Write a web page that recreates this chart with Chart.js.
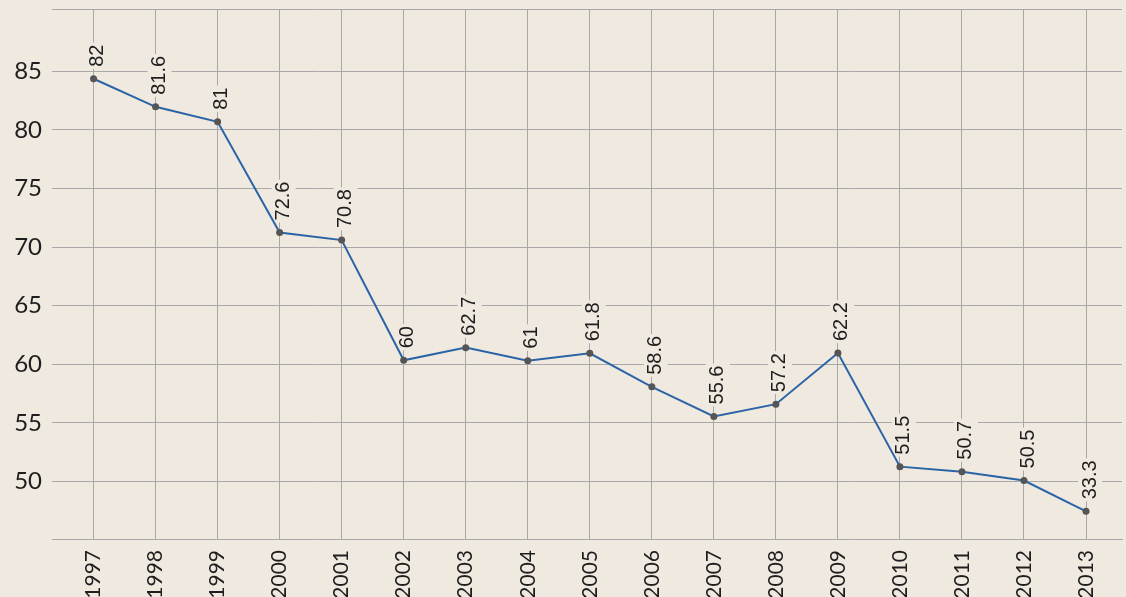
<!DOCTYPE html>
<html>
<head>
<meta charset="utf-8">
<script src="https://cdn.jsdelivr.net/npm/chart.js@4.4.1/dist/chart.umd.min.js"></script>
<style>
  html, body { margin: 0; padding: 0; background: #efe9e0; }
  canvas { display: block; }
</style>
</head>
<body>
<canvas id="c" width="1126" height="597"></canvas>
<script>
// ---- data ----
const years = [1997, 1998, 1999, 2000, 2001, 2002, 2003, 2004, 2005, 2006, 2007, 2008, 2009, 2010, 2011, 2012, 2013];
const values = [84.35, 81.96, 80.68, 71.24, 70.59, 60.34, 61.42, 60.31, 60.94, 58.08, 55.55, 56.60, 60.96, 51.27, 50.84, 50.09, 47.46];
const pointLabels = ['82', '81.6', '81', '72.6', '70.8', '60', '62.7', '61', '61.8', '58.6', '55.6', '57.2', '62.2', '51.5', '50.7', '50.5', '33.3'];
const yTicks = [50, 55, 60, 65, 70, 75, 80, 85];

const BG = '#efe9e0';
const GRID = '#a8a8a8';

const bgPlugin = {
  id: 'bg',
  beforeDraw(chart) {
    const ctx = chart.ctx;
    ctx.save();
    ctx.fillStyle = BG;
    ctx.fillRect(0, 0, chart.width, chart.height);
    ctx.restore();
  }
};

const labelPlugin = {
  id: 'pointLabelsPlugin',
  beforeDatasetsDraw(chart) {
    const ctx = chart.ctx;
    const meta = chart.getDatasetMeta(0);
    ctx.save();
    ctx.font = '20px "Liberation Sans", Arial, sans-serif';
    meta.data.forEach((pt, i) => {
      const txt = pointLabels[i];
      const w = ctx.measureText(txt).width;
      ctx.save();
      ctx.translate(pt.x + 4, pt.y - 12);
      ctx.rotate(-Math.PI / 2);
      ctx.fillStyle = BG;
      ctx.fillRect(-2, -12, w + 4, 24);
      ctx.fillStyle = '#1e1e1e';
      ctx.textAlign = 'left';
      ctx.textBaseline = 'middle';
      ctx.fillText(txt, 0, 0);
      ctx.restore();
    });
    ctx.restore();
  }
};

function zeroPad(s) { s.paddingLeft = 0; s.paddingRight = 0; s.paddingTop = 0; s.paddingBottom = 0; }

new Chart(document.getElementById('c'), {
  type: 'line',
  data: {
    datasets: [{
      data: years.map((y, i) => ({ x: y, y: values[i] })),
      borderColor: '#2b64a6',
      borderWidth: 2,
      pointRadius: 3.5,
      pointBackgroundColor: '#555555',
      pointBorderWidth: 0,
      tension: 0,
      fill: false
    }]
  },
  options: {
    responsive: false,
    animation: false,
    devicePixelRatio: 1,
    layout: { padding: { top: 9, right: 0, left: 0, bottom: 0 } },
    plugins: { legend: { display: false }, tooltip: { enabled: false } },
    scales: {
      x: {
        type: 'linear',
        min: 1996.33,
        max: 2013.58,
        afterBuildTicks(s) { s.ticks = years.map(v => ({ value: v })); },
        afterFit(s) { s.height = 58; zeroPad(s); },
        ticks: {
          autoSkip: false,
          minRotation: 90,
          maxRotation: 90,
          padding: 11,
          color: '#1e1e1e',
          font: { family: 'Lato', size: 21 },
          callback: v => String(v)
        },
        grid: { color: GRID, lineWidth: 1, drawTicks: false },
        border: { display: true, color: GRID, width: 1 }
      },
      y: {
        min: 45.1,
        max: 90.3,
        afterBuildTicks(s) { s.ticks = yTicks.map(v => ({ value: v })).concat([{ value: s.max }]); },
        afterFit(s) { s.width = 52; zeroPad(s); },
        ticks: {
          padding: 10,
          color: '#1e1e1e',
          font: { family: 'Lato', size: 24 },
          callback: v => (yTicks.includes(v) ? String(v) : '')
        },
        grid: { color: GRID, lineWidth: 1, drawTicks: false },
        border: { display: false }
      }
    }
  },
  plugins: [bgPlugin, labelPlugin]
});
</script>
</body>
</html>
